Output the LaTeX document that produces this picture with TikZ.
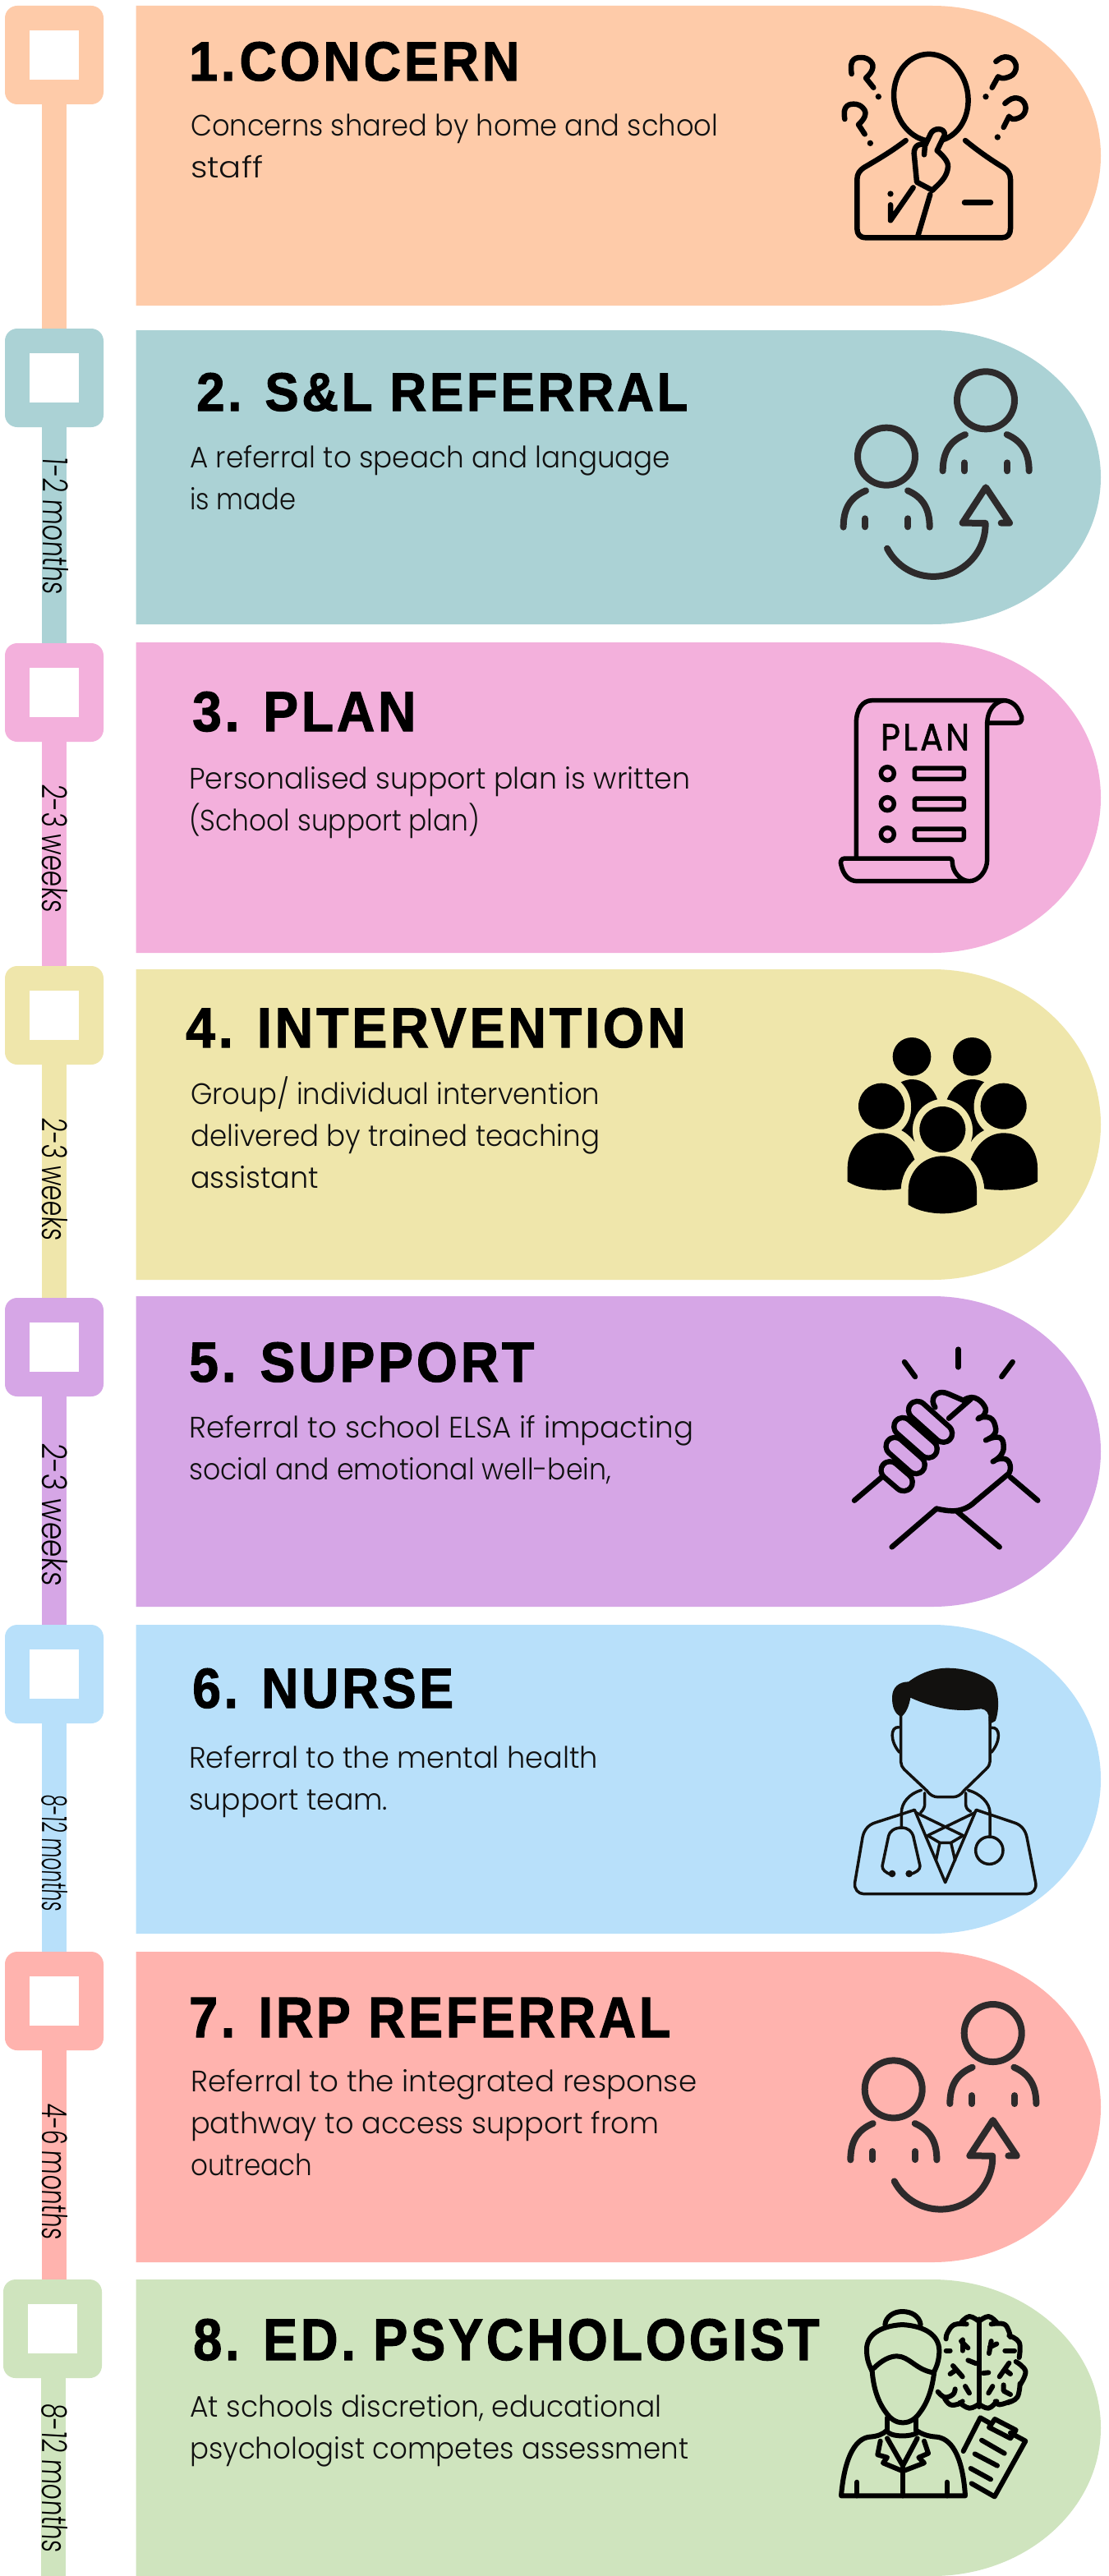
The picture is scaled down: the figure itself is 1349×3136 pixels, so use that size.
\documentclass[tikz,border=0pt]{standalone}
\usepackage{fontspec}
\usepackage{graphicx}
\newfontfamily\titlef[LetterSpace=6,FakeBold=1.6]{Liberation Sans Bold}
\newfontfamily\bodyf{Poppins Light}
\newfontfamily\planf[LetterSpace=8,FakeBold=1.5]{Poppins}
\newfontfamily\timef[FakeSlant=0.08]{Poppins Light}
\definecolor{c1}{HTML}{FECBA9}
\definecolor{c2}{HTML}{ABD2D5}
\definecolor{c3}{HTML}{F3B0DC}
\definecolor{c4}{HTML}{EFE6AB}
\definecolor{c5}{HTML}{D6A6E6}
\definecolor{c6}{HTML}{B8E0FA}
\definecolor{c7}{HTML}{FFB3AE}
\definecolor{c8}{HTML}{CFE4BE}
\definecolor{ink}{HTML}{111111}
\definecolor{dk}{HTML}{2D2A2B}
\definecolor{hair}{HTML}{12110F}
\tikzset{
  marker/.style={rectangle,rounded corners=15pt,minimum width=120pt,minimum height=120pt,inner sep=0pt,fill=#1},
  hole/.style={rectangle,minimum width=60pt,minimum height=60pt,inner sep=0pt,fill=white},
  stem/.style={line width=30pt,draw=#1},
  titletext/.style={anchor=base west,inner sep=0pt,text=black},
  bodytext/.style={anchor=base west,inner sep=0pt,text=ink,font=\bodyf\fontsize{36}{51}\selectfont},
  timetext/.style={rotate=-90,inner sep=0pt,text=black,anchor=center},
  ico/.style={line width=#1,line cap=round,line join=round},
  ico/.default=6.5pt
}
\newcommand\bandshape[3]{\path[fill=#1] (165.5,#2) -- (1135,#2) arc[start angle=-90,end angle=90,x radius=205,y radius={(#3-#2)/2}] -- (165.5,#3) -- cycle;}
\newcommand\ttl[6]{\node[titletext] (#1) at (#2,#3) {\resizebox{#4pt}{#5pt}{\titlef #6}};}
\newcommand\lw[2]{\resizebox{#1pt}{\height}{#2}}
\newcommand\para[4]{\node[bodytext] (#1) at (#2,#3) {\begin{tabular}[t]{@{}l@{}}#4\end{tabular}};}
\newcommand\timelbl[5]{\node[timetext] (#1) at (#2,#3) {\resizebox{#4pt}{31pt}{\timef #5}};}
\newcommand\referralicon[2]{%
\begin{scope}[shift={(#1,#2)},x=0.33333pt,y=-0.33333pt,ico=8pt,draw=dk]
\draw (660,172) circle[radius=105];
\draw (585,297) .. controls (530,320) and (503,360) .. (503,430);
\draw (737,297) .. controls (790,320) and (818,360) .. (818,430);
\draw (582,400) -- (582,430);
\draw (739,400) -- (739,430);
\draw (297,377) circle[radius=105];
\draw (222,502) .. controls (167,525) and (140,565) .. (140,635);
\draw (375,502) .. controls (428,525) and (455,565) .. (455,635);
\draw (219,604) -- (219,634);
\draw (376,604) -- (376,634);
\draw (300,713) arc[start angle=152.6,end angle=-1.5,radius=190] -- (575,620) -- (660,490) -- (747,620) -- (716,620);
\end{scope}}
\begin{document}
\begin{tikzpicture}[x=1pt,y=-1pt]
\useasboundingbox (0,0) rectangle (1349,3136);
\fill[white] (0,0) rectangle (1349,3136);
% bands
\bandshape{c1}{7}{372}
\bandshape{c2}{402}{760}
\bandshape{c3}{782}{1160}
\bandshape{c4}{1180}{1558}
\bandshape{c5}{1578}{1956}
\bandshape{c6}{1978}{2354}
\bandshape{c7}{2376}{2754}
\begin{scope}
\clip (0,0) rectangle (1349,3136);
\bandshape{c8}{2775}{3136}
\end{scope}
% markers
\node[marker=c1] (m1) at (66,67) {};
\node[marker=c2] (m2) at (66,460) {};
\node[marker=c3] (m3) at (66,843) {};
\node[marker=c4] (m4) at (66,1236) {};
\node[marker=c5] (m5) at (66,1640) {};
\node[marker=c6] (m6) at (66,2038) {};
\node[marker=c7] (m7) at (66,2436) {};
\node[marker=c8] (m8) at (64,2835) {};
\node[hole] (h1) at (m1) {};
\node[hole] (h2) at (m2) {};
\node[hole] (h3) at (m3) {};
\node[hole] (h4) at (m4) {};
\node[hole] (h5) at (m5) {};
\node[hole] (h6) at (m6) {};
\node[hole] (h7) at (m7) {};
\node[hole] (h8) at (m8) {};
\coordinate (end8) at (65,3136);
% stems
\draw[stem=c1] (m1.south) -- (m1.south|-m2.north);
\draw[stem=c2] (m2.south) -- (m2.south|-m3.north);
\draw[stem=c3] (m3.south) -- (m3.south|-m4.north);
\draw[stem=c4] (m4.south) -- (m4.south|-m5.north);
\draw[stem=c5] (m5.south) -- (m5.south|-m6.north);
\draw[stem=c6] (m6.south) -- (m6.south|-m7.north);
\draw[stem=c7] (m7.south) -- (m7.south|-m8.north);
\draw[stem=c8] (end8|-m8.south) -- (end8);
% time labels
\timelbl{l2}{68}{640}{166}{1-2 months}
\timelbl{l3}{67}{1032}{156}{2-3 weeks}
\timelbl{l4}{67}{1435}{150}{2-3 weeks}
\timelbl{l5}{67}{1843}{174}{2-3 weeks}
\timelbl{l6}{67}{2255}{142}{8-12 months}
\timelbl{l7}{67}{2643}{166}{4-6 months}
\timelbl{l8}{67}{3016}{182}{8-12 months}
% titles
\ttl{t1}{230}{98}{402}{47}{1.\hspace{.08em}CONCERN}
\ttl{t2}{239}{500}{598}{46}{2. S\&L REFERRAL}
\ttl{t3}{234}{890}{272}{48}{3. PLAN}
\ttl{t4}{226}{1275}{608}{48}{4. INTERVENTION}
\ttl{t5}{230}{1682}{420}{48}{5. SUPPORT}
\ttl{t6}{234}{2079}{318}{48}{6. NURSE}
\ttl{t7}{230}{2480}{586}{48}{7. IRP REFERRAL}
\ttl{t8}{235}{2873}{762}{50}{8. ED. PSYCHOLOGIST}
% body
\para{b1}{232}{166}{\lw{642}{Concerns shared by home and school}\\\lw{88}{staff}}
\para{b2}{231}{569}{\lw{585}{A referral to speach and language}\\\lw{129}{is made}}
\para{b3}{230}{960}{\lw{610}{Personalised support plan is written}\\\lw{354}{(School support plan)}}
\para{b4}{232}{1344}{\lw{498}{Group/ individual intervention}\\\lw{498}{delivered by trained teaching}\\\lw{156}{assistant}}
\para{b5}{230}{1750}{\lw{614}{Referral to school ELSA if impacting}\\\lw{514}{social and emotional well-bein,}}
\para{b6}{230}{2152}{\lw{498}{Referral to the mental health}\\\lw{242}{support team.}}
\para{b7}{232}{2546}{\lw{616}{Referral to the integrated response}\\\lw{570}{pathway to access support from}\\\lw{148}{outreach}}
\para{b8}{231}{2942}{\lw{574}{At schools discretion, educational}\\\lw{607}{psychologist competes assessment}}
% icon 1 : concern
\begin{scope}[shift={(980,40)},x=0.33333pt,y=-0.33333pt,ico]
\draw (460,237) circle[x radius=135,y radius=160,rotate=10];
\draw (368,393) .. controls (320,430) and (270,460) .. (215,492) .. controls (200,502) and (190,515) .. (190,535) -- (190,715) .. controls (190,735) and (200,748) .. (222,748) -- (720,748) .. controls (740,748) and (750,735) .. (750,715) -- (750,535) .. controls (750,515) and (740,502) .. (725,492) .. controls (680,465) and (630,430) .. (585,393);
\draw[fill=c1] (408,545) -- (398,440) .. controls (398,410) and (420,402) .. (440,408) -- (458,370) .. controls (468,345) and (510,345) .. (510,372) -- (482,430) .. controls (500,445) and (525,470) .. (522,490) .. controls (518,530) and (490,550) .. (465,575) -- cycle;
\draw (438,410) -- (435,445);
\draw (395,565) -- (312,685) -- (312,628);
\draw (457,590) -- (412,742);
\fill (312,588) circle[radius=11];
\draw (582,620) -- (678,620);
\draw plot[smooth,tension=0.8] coordinates {(170,150) (172,105) (205,90) (240,105) (245,135) (222,165)} -- (250,200);
\fill (268,233) circle[radius=11];
\draw plot[smooth,tension=0.8] coordinates {(145,315) (147,275) (178,260) (212,275) (218,305) (195,335)} -- (218,370);
\fill (238,403) circle[radius=11];
\draw plot[smooth,tension=0.8] coordinates {(697,105) (730,88) (765,105) (765,145) (730,165) (705,160)} -- (683,200);
\fill (660,233) circle[radius=11];
\draw plot[smooth,tension=0.8] coordinates {(730,258) (765,238) (800,255) (800,295) (765,315) (745,305)} -- (725,345);
\fill (703,381) circle[radius=11];
\end{scope}
% icon 2 : referral
\referralicon{980}{430}
% icon 3 : plan
\begin{scope}[shift={(1000,830)},x=0.33333pt,y=-0.33333pt,ico=5.5pt]
\draw (127,640) -- (127,150) .. controls (127,100) and (150,68) .. (185,68) -- (665,68) .. controls (690,68) and (715,85) .. (725,115) .. controls (735,130) and (735,150) .. (715,150) -- (605,150);
\draw (665,68) .. controls (630,75) and (607,105) .. (605,150) -- (605,650) .. controls (605,690) and (575,728) .. (540,728) .. controls (505,728) and (478,690) .. (478,660) .. controls (478,650) and (475,645) .. (465,645) -- (85,645) .. controls (70,645) and (68,660) .. (72,670) .. controls (80,705) and (100,728) .. (130,728) -- (540,728);
\node[anchor=base west,inner sep=0pt,text=black] (plan) at (208,250) {\resizebox{108pt}{32pt}{\planf PLAN}};
\foreach \yy in {335,446,557} {
  \draw (241,\yy) circle[radius=24];
  \draw[rounded corners=2.5pt] (340,\yy-20) rectangle (520,\yy+20);
}
\end{scope}
% icon 4 : group
\begin{scope}[shift={(1000,1240)},x=0.33333pt,y=-0.33333pt]
\fill (330,139) circle[radius=70];
\fill (550,139) circle[radius=70];
\fill (219,320) circle[radius=84];
\fill (665,320) circle[radius=84];
\fill (442,405) circle[radius=84];
\fill (317,680) -- (317,628) .. controls (317,555) and (375,502) .. (442,502) .. controls (510,502) and (567,555) .. (567,628) -- (567,680) .. controls (530,702) and (485,712) .. (442,712) .. controls (400,712) and (350,702) .. (317,680) -- cycle;
\fill (95,595) -- (95,545) .. controls (95,470) and (150,418) .. (219,418) .. controls (275,418) and (320,460) .. (340,515) .. controls (310,540) and (292,580) .. (290,622) .. controls (220,632) and (140,625) .. (95,595) -- cycle;
\fill (789,595) -- (789,545) .. controls (789,470) and (734,418) .. (665,418) .. controls (609,418) and (564,460) .. (545,515) .. controls (574,540) and (592,580) .. (595,622) .. controls (664,632) and (744,625) .. (789,595) -- cycle;
\fill (290,232) .. controls (305,225) and (320,222) .. (330,222) .. controls (375,222) and (410,255) .. (423,295) .. controls (355,310) and (315,380) .. (340,450) .. controls (325,430) and (310,418) .. (292,408) .. controls (340,365) and (340,280) .. (290,232) -- cycle;
\fill (594,232) .. controls (579,225) and (564,222) .. (550,222) .. controls (509,222) and (474,255) .. (458,295) .. controls (529,310) and (569,380) .. (546,450) .. controls (559,430) and (574,418) .. (594,408) .. controls (544,365) and (544,280) .. (594,232) -- cycle;
\end{scope}
% icon 5 : support
\begin{scope}[shift={(1000,1620)},x=0.33333pt,y=-0.33333pt,ico=6.5pt]
\draw (303,114) -- (342,168);
\draw (500,68) -- (500,133);
\draw (698,114) -- (658,168);
\draw (120,620) -- (220,535);
\draw (790,620) -- (690,535);
\draw (257,790) -- (420,650);
\draw (650,790) -- (495,660);
\draw (420,650) .. controls (445,655) and (460,658) .. (480,658) .. controls (510,658) and (540,645) .. (560,625) -- (680,525);
\draw plot[smooth,tension=0.8] coordinates {(525,250) (560,245) (595,275) (595,305) (572,322)};
\draw plot[smooth,tension=0.8] coordinates {(575,318) (615,318) (635,350) (630,380) (600,400)};
\draw plot[smooth,tension=0.8] coordinates {(610,395) (650,390) (665,420) (655,455) (626,478)};
\draw plot[smooth,tension=0.8] coordinates {(640,470) (675,470) (690,500) (680,528)};
\draw (415,280) .. controls (395,250) and (415,225) .. (440,225) .. controls (455,225) and (465,232) .. (520,255);
\draw (465,320) -- (545,250);
\foreach \xa/\ya/\xb/\yb in {250/510/300/553,268/422/345/490,297/350/390/432,350/290/445/375} {
  \draw[line cap=round,line width=28pt,draw=black] (\xa,\ya) -- (\xb,\yb);
  \draw[line cap=round,line width=15pt,draw=c5] (\xa,\ya) -- (\xb,\yb);
}
\end{scope}
% icon 6 : nurse
\begin{scope}[shift={(1000,2020)},x=0.33333pt,y=-0.33333pt,ico=3.5pt,draw=hair]
\fill[hair] (258,140) .. controls (258,100) and (285,82) .. (318,82) .. controls (360,50) and (410,32) .. (460,32) .. controls (530,32) and (590,55) .. (625,85) .. controls (650,115) and (650,190) .. (635,225) -- (612,238) -- (610,205) .. controls (605,185) and (590,178) .. (570,182) .. controls (490,195) and (400,175) .. (325,140) .. controls (320,170) and (310,195) .. (292,210) .. controls (265,200) and (258,170) .. (258,140) -- cycle;
\draw (290,205) -- (290,375) .. controls (290,385) and (295,395) .. (302,402) -- (385,480) .. controls (395,495) and (410,503) .. (425,503) -- (480,503) .. controls (495,503) and (510,495) .. (520,480) -- (600,402) .. controls (610,392) and (615,385) .. (615,375) -- (615,210);
\draw (283,248) .. controls (250,245) and (250,300) .. (285,340);
\draw (620,250) .. controls (655,245) and (655,300) .. (620,340);
\draw (377,488) -- (377,530) .. controls (377,540) and (372,550) .. (362,560);
\draw (527,488) -- (527,530) .. controls (527,540) and (532,550) .. (545,556);
\draw (340,550) -- (195,597) .. controls (170,605) and (155,625) .. (150,650) -- (122,815) .. controls (118,840) and (135,857) .. (155,857) -- (750,857) .. controls (770,857) and (787,840) .. (782,815) -- (750,650) .. controls (745,625) and (730,605) .. (705,597) -- (565,550);
\draw (340,550) -- (452,815) -- (565,550);
\draw (345,560) -- (520,645);
\draw (560,560) -- (385,645);
\draw (390,645) -- (432,670) -- (473,670) -- (515,645);
\draw (432,670) -- (418,735);
\draw (473,670) -- (488,735);
\draw (365,478) .. controls (320,490) and (292,525) .. (292,560) -- (292,615);
\draw (535,478) .. controls (580,490) and (615,525) .. (615,560) -- (615,650);
\draw (613,698) circle[radius=50];
\draw (292,615) .. controls (265,615) and (248,630) .. (245,645) -- (222,755) .. controls (222,770) and (235,778) .. (250,785);
\draw (292,615) .. controls (318,615) and (330,630) .. (335,645) -- (360,755) .. controls (360,770) and (345,778) .. (325,785);
\fill[hair] (258,783) circle[radius=13];
\fill[hair] (320,783) circle[radius=13];
\end{scope}
% icon 7 : referral
\referralicon{988.7}{2417.7}
% icon 8 : psychologist
\begin{scope}[shift={(1000,2790)},x=0.33333pt,y=-0.33333pt,ico=6pt]
\draw (232,120) .. controls (235,90) and (265,72) .. (295,72) .. controls (330,72) and (358,90) .. (362,120);
\draw (185,290) .. controls (170,260) and (165,240) .. (165,210) .. controls (165,160) and (210,125) .. (295,120) .. controls (380,125) and (430,160) .. (430,215) .. controls (430,240) and (425,265) .. (412,290);
\draw (190,280) .. controls (220,250) and (250,235) .. (275,235) .. controls (320,235) and (345,285) .. (408,295);
\draw (185,290) .. controls (190,350) and (205,400) .. (235,440) .. controls (250,462) and (270,478) .. (297,478) .. controls (325,478) and (345,462) .. (360,440) .. controls (390,400) and (405,350) .. (412,290);
\draw (240,460) -- (240,505);
\draw (345,460) -- (345,505);
\draw (245,515) .. controls (265,530) and (325,530) .. (350,515);
\draw (240,505) .. controls (225,520) and (205,528) .. (175,530) .. controls (130,535) and (85,590) .. (72,745) -- (525,745) .. controls (515,590) and (470,535) .. (420,530) .. controls (390,528) and (365,520) .. (345,505);
\draw (240,535) -- (297,635) -- (350,535);
\draw (215,545) -- (205,595) -- (240,605) -- (225,625) -- (297,655) -- (375,625) -- (355,605) -- (390,590) -- (375,545);
\draw (297,640) -- (297,745);
\draw (130,695) -- (130,745);
\draw (458,695) -- (458,745);
\draw (575,100) -- (575,420);
\draw plot[smooth,tension=0.7] coordinates {(575,108) (540,90) (510,112)};
\draw plot[smooth,tension=0.7] coordinates {(530,118) (485,120) (460,150) (455,172)};
\draw plot[smooth,tension=0.7] coordinates {(425,365) (450,385) (480,375) (488,355)};
\draw plot[smooth,tension=0.7] coordinates {(450,390) (470,412) (500,410) (515,400)};
\draw plot[smooth,tension=0.7] coordinates {(505,405) (540,425) (575,410)};
\draw plot[smooth,tension=0.7] coordinates {(575,108) (610,90) (640,112)};
\draw plot[smooth,tension=0.7] coordinates {(620,118) (670,120) (690,165)};
\draw plot[smooth,tension=0.7] coordinates {(685,160) (722,185) (722,240)};
\draw plot[smooth,tension=0.7] coordinates {(710,255) (745,290) (725,340)};
\draw plot[smooth,tension=0.7] coordinates {(725,335) (715,385) (680,405)};
\draw plot[smooth,tension=0.7] coordinates {(690,400) (650,412) (635,400)};
\draw plot[smooth,tension=0.7] coordinates {(640,400) (610,425) (575,410)};
\draw (510,180) -- (535,205);
\draw (515,175) -- (515,215);
\draw (455,215) -- (470,215);
\draw (535,250) -- (565,262);
\draw (480,270) -- (515,310);
\draw (470,300) -- (492,285);
\draw (525,345) -- (540,370);
\draw (620,180) -- (612,225);
\draw (640,190) -- (615,202);
\draw (670,215) -- (705,215);
\draw (590,297) -- (610,295);
\draw (685,260) -- (650,310);
\draw (690,300) -- (670,285);
\draw (625,345) -- (610,370);
\draw (665,340) -- (665,362) -- (690,375);
\draw (518,582) -- (580,460) -- (612,478);
\draw (690,515) -- (745,545) -- (632,748) -- (548,700);
\draw (612,495) -- (633,465) -- (710,505) -- (690,535) -- cycle;
\draw (585,542) -- (668,590);
\draw (560,592) -- (642,635);
\draw (545,645) -- (618,685);
\end{scope}
\end{tikzpicture}
\end{document}
